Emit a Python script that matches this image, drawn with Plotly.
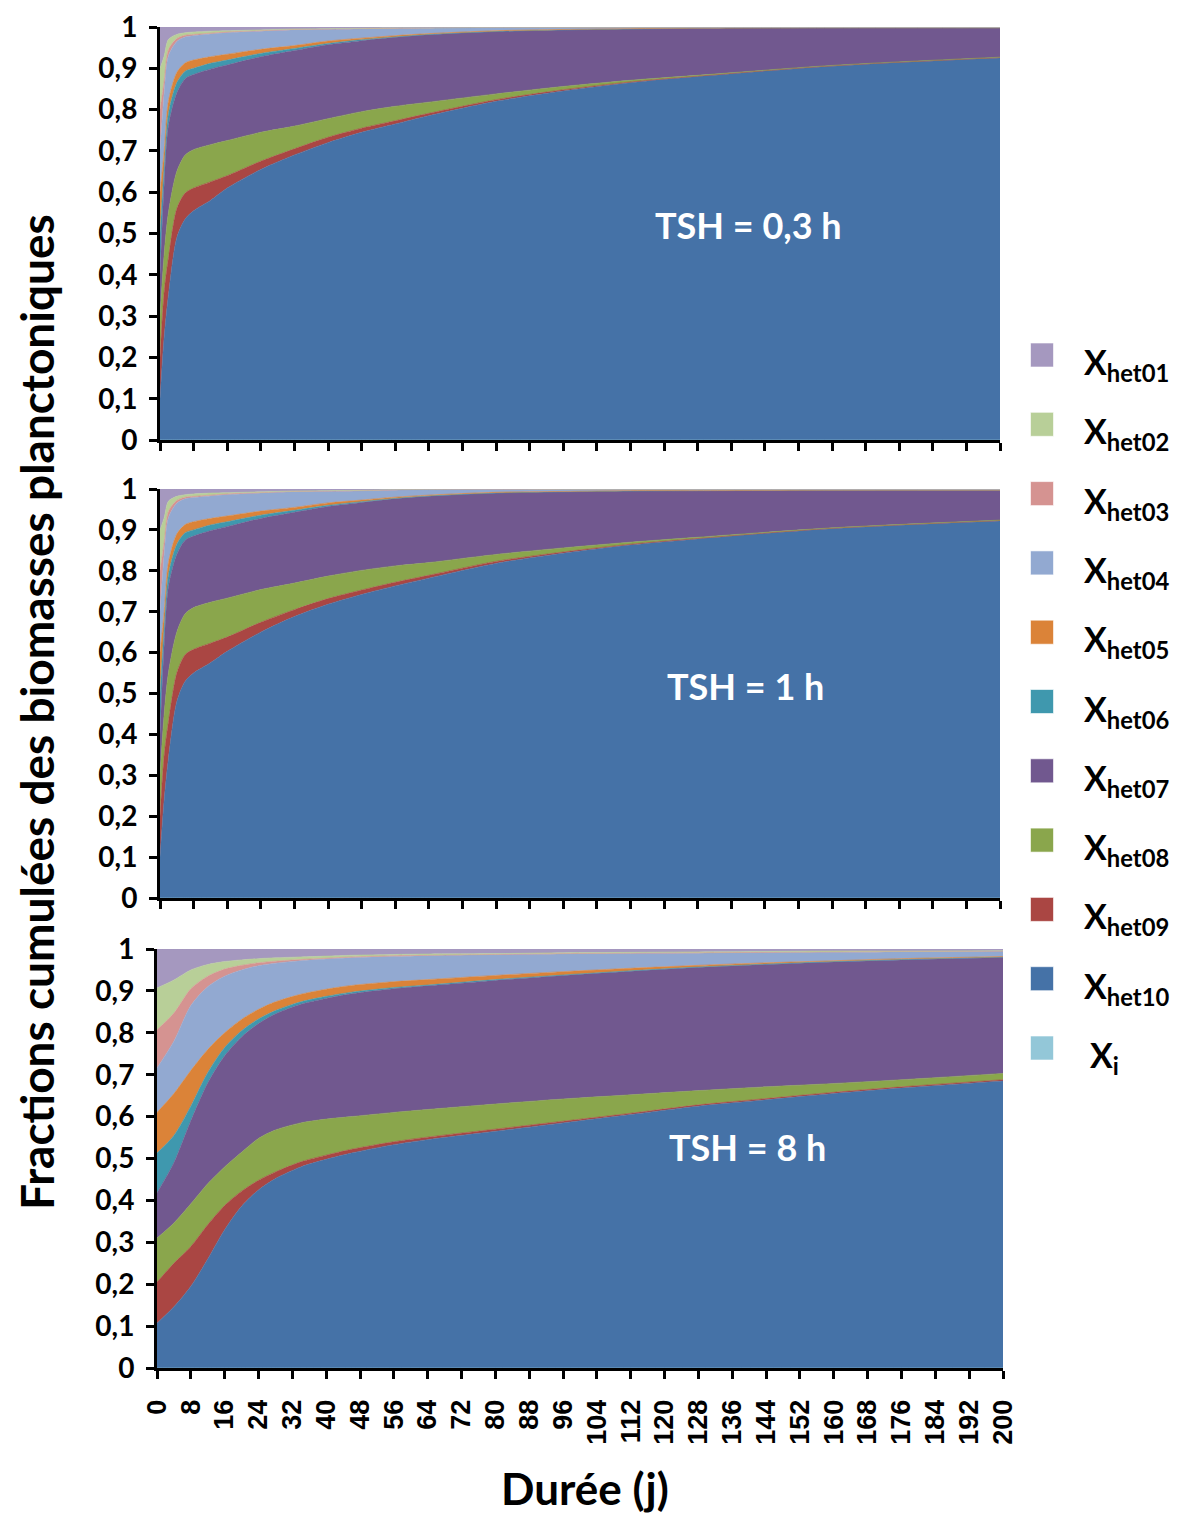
import plotly.graph_objects as go

# ---------------- DATA ----------------
series_names = ["X<sub>het01</sub>", "X<sub>het02</sub>", "X<sub>het03</sub>", "X<sub>het04</sub>",
                "X<sub>het05</sub>", "X<sub>het06</sub>", "X<sub>het07</sub>", "X<sub>het08</sub>",
                "X<sub>het09</sub>", "X<sub>het10</sub>", "X<sub>i</sub>"]
panel_labels = ["TSH = 0,3 h", "TSH = 1 h", "TSH = 8 h"]
x_ticks = list(range(0, 201, 8))

# Panel 1 : TSH = 0,3 h
days_1 = [0, 1, 2, 4, 6, 8, 12, 16, 24, 32, 40, 48, 56, 64, 80, 96, 112, 128, 160, 200]
xi_1 = [0, 0, 0, 0, 0, 0, 0, 0, 0, 0, 0, 0, 0, 0, 0, 0, 0, 0, 0, 0]
het10_1 = [0.10, 0.25, 0.35, 0.49, 0.535, 0.555, 0.580, 0.610, 0.655, 0.690, 0.720, 0.745, 0.765, 0.785, 0.820, 0.845, 0.865, 0.880, 0.905, 0.925]
het09_1 = [0.10, 0.11, 0.09, 0.07, 0.063, 0.055, 0.045, 0.030, 0.020, 0.015, 0.013, 0.010, 0.008, 0.006, 0.004, 0.003, 0.002, 0.001, 0.001, 0.001]
het08_1 = [0.10, 0.09, 0.11, 0.09, 0.092, 0.093, 0.090, 0.085, 0.070, 0.055, 0.045, 0.040, 0.035, 0.027, 0.014, 0.008, 0.004, 0.002, 0.001, 0.001]
het07_1 = [0.10, 0.17, 0.21, 0.19, 0.185, 0.182, 0.183, 0.183, 0.183, 0.183, 0.179, 0.172, 0.167, 0.163, 0.151, 0.137, 0.124, 0.114, 0.091, 0.071]
het06_1 = [0.10, 0.04, 0.03, 0.025, 0.018, 0.015, 0.014, 0.012, 0.008, 0.005, 0.003, 0.002, 0.001, 0.001, 0.0, 0.0, 0.0, 0.0, 0.0, 0.0]
het05_1 = [0.10, 0.04, 0.03, 0.025, 0.020, 0.020, 0.016, 0.014, 0.010, 0.007, 0.006, 0.004, 0.003, 0.002, 0.002, 0.001, 0.001, 0.0, 0.0, 0.0]
het04_1 = [0.10, 0.14, 0.11, 0.075, 0.063, 0.059, 0.055, 0.052, 0.044, 0.038, 0.028, 0.022, 0.017, 0.013, 0.007, 0.005, 0.003, 0.002, 0.001, 0.001]
het03_1 = [0.10, 0.03, 0.015, 0.007, 0.004, 0.003, 0.002, 0.002, 0.001, 0.001, 0.001, 0.001, 0.001, 0.001, 0.001, 0.0, 0.0, 0.0, 0.0, 0.0]
het02_1 = [0.10, 0.06, 0.025, 0.010, 0.006, 0.006, 0.005, 0.003, 0.002, 0.001, 0.001, 0.001, 0.001, 0.0, 0.0, 0.0, 0.0, 0.0, 0.0, 0.0]
het01_1 = [0.10, 0.07, 0.03, 0.018, 0.014, 0.012, 0.010, 0.009, 0.007, 0.005, 0.004, 0.003, 0.002, 0.002, 0.001, 0.001, 0.001, 0.001, 0.001, 0.001]

# Panel 2 : TSH = 1 h
days_2 = [0, 1, 2, 4, 6, 8, 12, 16, 24, 32, 40, 48, 56, 64, 80, 96, 112, 128, 160, 200]
xi_2 = [0, 0, 0, 0, 0, 0, 0, 0, 0, 0, 0, 0, 0, 0, 0, 0, 0, 0, 0, 0]
het10_2 = [0.10, 0.24, 0.34, 0.48, 0.53, 0.550, 0.575, 0.603, 0.650, 0.688, 0.718, 0.742, 0.763, 0.782, 0.818, 0.843, 0.863, 0.878, 0.903, 0.922]
het09_2 = [0.10, 0.11, 0.09, 0.07, 0.065, 0.058, 0.048, 0.035, 0.024, 0.017, 0.014, 0.011, 0.009, 0.007, 0.005, 0.003, 0.002, 0.001, 0.001, 0.001]
het08_2 = [0.10, 0.10, 0.12, 0.10, 0.10, 0.102, 0.100, 0.095, 0.080, 0.065, 0.055, 0.048, 0.040, 0.031, 0.017, 0.010, 0.005, 0.003, 0.001, 0.001]
het07_2 = [0.10, 0.17, 0.21, 0.19, 0.18, 0.175, 0.175, 0.175, 0.174, 0.173, 0.170, 0.166, 0.164, 0.162, 0.150, 0.137, 0.125, 0.114, 0.092, 0.073]
het06_2 = [0.10, 0.04, 0.03, 0.025, 0.018, 0.015, 0.014, 0.012, 0.008, 0.005, 0.003, 0.002, 0.001, 0.001, 0.0, 0.0, 0.0, 0.0, 0.0, 0.0]
het05_2 = [0.10, 0.04, 0.03, 0.025, 0.020, 0.020, 0.016, 0.014, 0.010, 0.007, 0.006, 0.004, 0.003, 0.002, 0.002, 0.001, 0.001, 0.0, 0.0, 0.0]
het04_2 = [0.10, 0.14, 0.11, 0.075, 0.063, 0.059, 0.055, 0.052, 0.044, 0.038, 0.028, 0.022, 0.017, 0.013, 0.007, 0.005, 0.003, 0.003, 0.002, 0.002]
het03_2 = [0.10, 0.03, 0.015, 0.007, 0.004, 0.003, 0.002, 0.002, 0.001, 0.001, 0.001, 0.001, 0.001, 0.001, 0.001, 0.0, 0.0, 0.0, 0.0, 0.0]
het02_2 = [0.10, 0.06, 0.025, 0.010, 0.006, 0.006, 0.005, 0.003, 0.002, 0.001, 0.001, 0.001, 0.001, 0.0, 0.0, 0.0, 0.0, 0.0, 0.0, 0.0]
het01_2 = [0.10, 0.07, 0.03, 0.018, 0.014, 0.012, 0.010, 0.009, 0.007, 0.005, 0.004, 0.003, 0.001, 0.001, 0.0, 0.001, 0.001, 0.001, 0.001, 0.001]

# Panel 3 : TSH = 8 h
days_3 = [0, 4, 8, 12, 16, 20, 24, 28, 34, 40, 46, 56, 64, 80, 96, 112, 128, 144, 160, 176, 200]
xi_3 = [0, 0, 0, 0, 0, 0, 0, 0, 0, 0, 0, 0, 0, 0, 0, 0, 0, 0, 0, 0, 0]
het10_3 = [0.107, 0.146, 0.195, 0.26, 0.33, 0.386, 0.425, 0.452, 0.48, 0.498, 0.513, 0.533, 0.545, 0.565, 0.585, 0.605, 0.625, 0.64, 0.655, 0.668, 0.685]
het09_3 = [0.098, 0.104, 0.095, 0.082, 0.058, 0.036, 0.023, 0.016, 0.012, 0.010, 0.009, 0.007, 0.006, 0.005, 0.004, 0.003, 0.003, 0.003, 0.003, 0.003, 0.003]
het08_3 = [0.105, 0.096, 0.102, 0.098, 0.092, 0.093, 0.100, 0.100, 0.093, 0.086, 0.078, 0.070, 0.066, 0.060, 0.053, 0.044, 0.034, 0.028, 0.021, 0.017, 0.015]
het07_3 = [0.108, 0.144, 0.198, 0.24, 0.265, 0.275, 0.274, 0.277, 0.283, 0.288, 0.293, 0.295, 0.295, 0.295, 0.295, 0.295, 0.294, 0.292, 0.290, 0.286, 0.277]
het06_3 = [0.095, 0.065, 0.035, 0.025, 0.02, 0.015, 0.011, 0.008, 0.006, 0.005, 0.004, 0.003, 0.002, 0.002, 0.001, 0.001, 0.001, 0.001, 0.001, 0.001, 0.001]
het05_3 = [0.097, 0.10, 0.085, 0.055, 0.035, 0.027, 0.023, 0.021, 0.018, 0.017, 0.016, 0.014, 0.013, 0.010, 0.008, 0.006, 0.004, 0.003, 0.002, 0.002, 0.001]
het04_3 = [0.106, 0.125, 0.155, 0.15, 0.135, 0.118, 0.104, 0.092, 0.080, 0.072, 0.066, 0.060, 0.057, 0.049, 0.042, 0.035, 0.029, 0.024, 0.020, 0.016, 0.012]
het03_3 = [0.091, 0.067, 0.04, 0.025, 0.017, 0.011, 0.007, 0.005, 0.003, 0.002, 0.002, 0.002, 0.001, 0.001, 0.001, 0.001, 0.001, 0.001, 0.001, 0.001, 0.001]
het02_3 = [0.10, 0.079, 0.045, 0.028, 0.018, 0.013, 0.01, 0.008, 0.006, 0.005, 0.004, 0.003, 0.003, 0.002, 0.002, 0.002, 0.002, 0.002, 0.002, 0.001, 0.001]
het01_3 = [0.093, 0.074, 0.05, 0.037, 0.03, 0.026, 0.023, 0.021, 0.019, 0.017, 0.015, 0.013, 0.012, 0.011, 0.009, 0.008, 0.007, 0.006, 0.005, 0.005, 0.004]

# colours, in legend order (het01 ... het10, Xi)
colors = ["#A598BF", "#B8CF98", "#D59391", "#92A9D1", "#DB8338", "#3F98AE",
          "#71588F", "#8AA64C", "#AA4643", "#4572A7", "#93C7D8"]

# ---------------- FIGURE ----------------
OFF = 8                      # page body margin added by the browser
W, H = 1181 - OFF, 1515 - OFF


def fx(px):
    return (px - OFF) / W


def fy(py):
    return 1 - (py - OFF) / H


panels = [
    (days_1, [het01_1, het02_1, het03_1, het04_1, het05_1, het06_1, het07_1, het08_1, het09_1, het10_1, xi_1]),
    (days_2, [het01_2, het02_2, het03_2, het04_2, het05_2, het06_2, het07_2, het08_2, het09_2, het10_2, xi_2]),
    (days_3, [het01_3, het02_3, het03_3, het04_3, het05_3, het06_3, het07_3, het08_3, het09_3, het10_3, xi_3]),
]
# plot areas in target pixels (left, right, top, bottom)
areas = [(160, 1000, 27, 440), (160, 1000, 489, 898), (157, 1003, 949, 1368)]

fig = go.Figure()
for p, (days, vals) in enumerate(panels):
    ax = "" if p == 0 else str(p + 1)
    # stacking order: Xi bottom, then het10 ... het01 on top
    for k in reversed(range(len(vals))):
        fig.add_trace(go.Scatter(
            x=days, y=vals[k], mode="lines", stackgroup=f"g{p}",
            line=dict(width=0.6, color=colors[k], shape="spline", smoothing=0.8),
            fillcolor=colors[k],
            xaxis="x" + ax, yaxis="y" + ax, showlegend=False,
            name=series_names[k].replace("<sub>", "").replace("</sub>", ""),
            hoverinfo="skip"))

layout = dict(
    template="none",
    width=W, height=H, margin=dict(l=0, r=0, t=0, b=0, pad=0, autoexpand=False),
    paper_bgcolor="white", plot_bgcolor="white", separators=", ",
    showlegend=False, font=dict(family="Lato", color="black"),
)
for p, (l, r, t, b) in enumerate(areas):
    ax = "" if p == 0 else str(p + 1)
    layout["xaxis" + ax] = dict(
        domain=[fx(l), fx(r)], range=[0, 200], tickmode="array", tickvals=x_ticks,
        ticktext=[str(v) for v in x_ticks], showticklabels=(p == 2), tickangle=-90,
        ticks="outside", ticklen=8, tickwidth=3, tickcolor="black", automargin=False,
        showline=True, linewidth=3, linecolor="black", showgrid=False, zeroline=False,
        ticklabelstandoff=10, ticklabeloverflow="allow",
        tickfont=dict(family="Liberation Sans", size=27, weight="bold", color="black"),
        anchor="y" + ax, fixedrange=True)
    layout["yaxis" + ax] = dict(
        domain=[fy(b), fy(t)], range=[0, 1], tick0=0, dtick=0.1,
        ticks="outside", ticklen=8, tickwidth=3, tickcolor="black", automargin=False,
        showline=True, linewidth=3, linecolor="black", showgrid=False, zeroline=False,
        ticklabelstandoff=6, ticklabeloverflow="allow",
        tickfont=dict(family="Lato", size=28, weight="bold", color="black"),
        anchor="x" + ax, fixedrange=True)
fig.update_layout(**layout)

annotations = []
# panel labels
lab_pos = [(140, 0.52), (139.5, 0.518), (139.7, 0.527)]
for p, (txt, (xx, yy)) in enumerate(zip(panel_labels, lab_pos)):
    ax = "" if p == 0 else str(p + 1)
    annotations.append(dict(x=xx, y=yy, xref="x" + ax, yref="y" + ax, text=txt,
                            showarrow=False, xanchor="center", yanchor="middle",
                            font=dict(family="Lato", size=36, weight="bold", color="white")))
# axis titles
annotations.append(dict(x=fx(36), y=fy(712), xref="paper", yref="paper",
                        text="Fractions cumulées des biomasses planctoniques", textangle=-90,
                        showarrow=False, xanchor="center", yanchor="middle",
                        font=dict(family="Lato", size=46, weight="bold", color="black")))
annotations.append(dict(x=fx(585), y=fy(1488), xref="paper", yref="paper",
                        text="Durée (j)", showarrow=False, xanchor="center", yanchor="middle",
                        font=dict(family="Lato", size=44, weight="bold", color="black")))

# legend (swatch + label)
shapes = []
for i, name in enumerate(series_names):
    cy = 355 + i * 69.3
    cx = 1042
    shapes.append(dict(type="rect", xref="paper", yref="paper",
                       x0=fx(cx - 11.5), x1=fx(cx + 11.5),
                       y0=fy(cy + 12), y1=fy(cy - 12),
                       fillcolor=colors[i], line=dict(width=1, color="rgba(255,255,255,0.6)")))
    tx = 1082 if i < 10 else 1088
    annotations.append(dict(x=fx(tx), y=fy(cy + 9), xref="paper", yref="paper",
                            text=name, showarrow=False, xanchor="left", yanchor="middle",
                            font=dict(family="Lato", size=34, weight="bold", color="black")))

fig.update_layout(annotations=annotations, shapes=shapes)
fig.write_html("out.html")
